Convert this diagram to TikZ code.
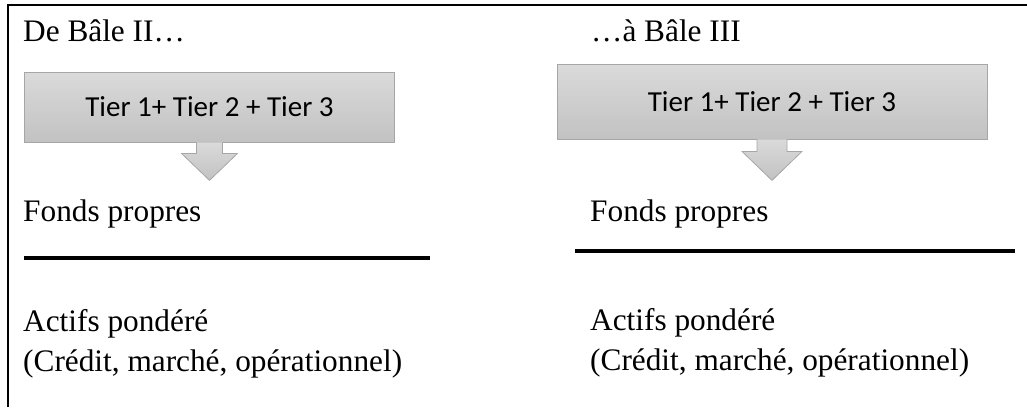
\documentclass[tikz,border=0pt]{standalone}
\usepackage{fontspec}
\setmainfont{Liberation Serif}
\newfontfamily\calibrifont{Carlito}
\usepackage{tikz}
\usetikzlibrary{calc}
\definecolor{tiertop}{HTML}{DADADA}
\definecolor{tierbot}{HTML}{C2C2C2}
\definecolor{tierline}{HTML}{A6A6A6}

\begin{document}
\begin{tikzpicture}[x=1pt,y=-1pt,line cap=butt,
  font=\fontsize{31.3}{37}\selectfont,
  txt/.style={anchor=base west,inner sep=0pt},
  tierbox/.style={top color=tiertop,bottom color=tierbot,draw=tierline,line width=0.8pt,
    inner sep=0pt,font=\calibrifont\fontsize{29}{34}\selectfont},
  tierarrow/.style={top color=tiertop,bottom color=tierbot,draw=tierline,line width=0.8pt},
  rule/.style={line width=3.6pt}]
\useasboundingbox (0,0) rectangle (1027,407);
% frame (top and left only)
\draw[line width=1.8pt] (8,407) -- (8,5) -- (1027,5);
% left: Bale II
\node[txt] (titleA) at (23,41) {De Bâle II…};
\node[tierbox,minimum width=370pt,minimum height=70pt] (tierA) at (209.5,107) {Tier 1+ Tier 2 + Tier 3};
\draw[tierarrow] ($(tierA.south)+(-13,0)$) -- ++(0,11) -- ++(-15,0) -- ($(tierA.south)+(0,38)$)
  -- ($(tierA.south)+(28,11)$) -- ++(-15,0) -- ++(0,-11);
\node[txt] (fondsA) at (23,221) {Fonds propres};
\draw[rule] (24,258) -- (430,258);
\node[txt] (actifsA) at (23,331) {Actifs pondéré};
\node[txt] (risqA) at (23,371) {(Crédit, marché, opérationnel)};
% right: Bale III
\node[txt] (titleB) at (591,41) {…à Bâle III};
\node[tierbox,minimum width=430pt,minimum height=75pt] (tierB) at (772,101.5) {Tier 1+ Tier 2 + Tier 3};
\draw[tierarrow] ($(tierB.south)+(-15,0)$) -- ++(0,12) -- ++(-15,0) -- ($(tierB.south)+(0,41)$)
  -- ($(tierB.south)+(30,12)$) -- ++(-15,0) -- ++(0,-12);
\node[txt] (fondsB) at (590,221) {Fonds propres};
\draw[rule] (575,251) -- (1015,251);
\node[txt] (actifsB) at (590,330) {Actifs pondéré};
\node[txt] (risqB) at (590,370) {(Crédit, marché, opérationnel)};
\end{tikzpicture}
\end{document}
